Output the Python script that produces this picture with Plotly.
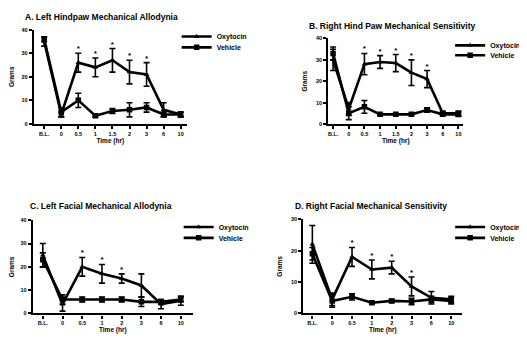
import plotly.graph_objects as go

time_ab = ["B.L.", "0", "0.5", "1", "1.5", "2", "3", "6", "10"]
time_cd = ["B.L.", "0", "0.5", "1", "2", "3", "6", "10"]

a_oxy = [35, 4, 26, 24, 27, 22, 21, 6, 4]
a_oxy_err = [2, 1, 4, 4, 5, 5, 5, 3, 1]
a_veh = [36, 5, 10, 3.5, 5.5, 6, 7, 4, 4]
a_veh_err = [1, 2, 3, 0.5, 1, 3, 2, 1, 1]
a_sig = [False, False, True, True, True, True, True, False, False]

b_oxy = [30, 7, 28, 29, 28.5, 24, 21, 5, 5]
b_oxy_err = [5, 3, 5, 3, 4, 6, 4, 1, 1]
b_veh = [33, 5, 8, 4.5, 4.5, 4.5, 6.5, 4.5, 4.5]
b_veh_err = [3, 3, 3, 0.5, 0.5, 0.5, 1, 0.5, 1]
b_sig = [False, False, True, True, True, True, True, False, False]

c_oxy = [25, 4, 20, 17, 15, 12, 4, 5.5]
c_oxy_err = [5, 3, 4, 4, 2, 5, 2, 2]
c_veh = [23, 6, 6, 6, 6, 5, 5, 6]
c_veh_err = [3, 2, 1, 1, 1, 2, 1, 1]
c_sig = [False, False, True, True, True, False, False, False]

d_oxy = [22, 4.5, 18, 14, 14.6, 8.6, 5, 4.5]
d_oxy_err = [6, 2, 3, 3, 2, 3, 2, 1]
d_veh = [19, 4, 5.3, 3.4, 4, 3.8, 4.5, 4]
d_veh_err = [2, 2, 1, 0.3, 0.5, 1, 1, 1]
d_sig = [False, False, True, True, True, True, False, False]

titles = ["A. Left Hindpaw Mechanical Allodynia",
          "B. Right Hind Paw Mechanical Sensitivity",
          "C. Left Facial Mechanical Allodynia",
          "D. Right Facial Mechanical Sensitivity"]
y_max = [40, 40, 40, 30]

W, H = 527, 343
OFF = 8  # default page body margin
FW, FH = W - OFF, H - OFF
FONT = "Liberation Sans, Arial, sans-serif"


def px(p):
    return (p - OFF) / FW


def py(p):
    return 1 - (p - OFF) / FH


panels = [
    dict(t=time_ab, oxy=a_oxy, oe=a_oxy_err, veh=a_veh, ve=a_veh_err, sig=a_sig,
         xpx=(33, 186), ypx=(27, 123), xr=[-0.6, 8.35], leg=(216, 34, 45), tt=(22, 14)),
    dict(t=time_ab, oxy=b_oxy, oe=b_oxy_err, veh=b_veh, ve=b_veh_err, sig=b_sig,
         xpx=(328, 463), ypx=(36, 123), xr=[-0.3, 8.3], leg=(490, 43, 53), tt=(307, 23)),
    dict(t=time_cd, oxy=c_oxy, oe=c_oxy_err, veh=c_veh, ve=c_veh_err, sig=c_sig,
         xpx=(32, 192), ypx=(221, 316), xr=[-0.5, 7.6], leg=(218, 228, 239), tt=(27, 207)),
    dict(t=time_cd, oxy=d_oxy, oe=d_oxy_err, veh=d_veh, ve=d_veh_err, sig=d_sig,
         xpx=(303, 462), ypx=(220, 316), xr=[-0.45, 7.55], leg=(490, 228, 239), tt=(293, 207)),
]

fig = go.Figure()
layout = dict(width=FW, height=FH, margin=dict(l=0, r=0, t=0, b=0),
              paper_bgcolor="white", plot_bgcolor="white",
              font=dict(family=FONT, color="black", size=7), annotations=[])

for i, p in enumerate(panels):
    n = "" if i == 0 else str(i + 1)
    xa, ya = "x" + n, "y" + n
    lg_oxy = "legend" if i == 0 else "legend" + str(2 * i + 1)
    lg_veh = "legend" + str(2 * i + 2)
    fig.add_trace(go.Scatter(
        x=p["t"], y=p["veh"], xaxis=xa, yaxis=ya, name="Vehicle", legend=lg_veh,
        mode="lines+markers", line=dict(color="black", width=2.6),
        marker=dict(symbol="square", size=5.5, color="black"),
        error_y=dict(type="data", array=p["ve"], color="black", thickness=1.6, width=3)))
    fig.add_trace(go.Scatter(
        x=p["t"], y=p["oxy"], xaxis=xa, yaxis=ya, name="Oxytocin", legend=lg_oxy,
        mode="lines+markers", line=dict(color="black", width=2.6),
        marker=dict(symbol="triangle-up", size=5, color="black"),
        error_y=dict(type="data", array=p["oe"], color="black", thickness=1.6, width=3)))
    sx = [t for t, s in zip(p["t"], p["sig"]) if s]
    sy = [o + e for o, e, s in zip(p["oxy"], p["oe"], p["sig"]) if s]
    fig.add_trace(go.Scatter(
        x=sx, y=sy, xaxis=xa, yaxis=ya, mode="text", text=["*"] * len(sx),
        textposition="top center", textfont=dict(size=8, color="black", weight="bold"),
        showlegend=False, hoverinfo="skip"))

    x0, x1 = px(p["xpx"][0]), px(p["xpx"][1])
    y0, y1 = py(p["ypx"][1]), py(p["ypx"][0])
    tickfont = dict(size=5.5, family=FONT, weight="bold")
    layout["xaxis" + n] = dict(
        domain=[x0, x1], anchor=ya, type="category", range=p["xr"],
        showline=True, linecolor="black", linewidth=2.4, ticks="outside", ticklen=3,
        tickwidth=1.6, tickcolor="black", showgrid=False, zeroline=False,
        tickfont=tickfont, tickangle=0,
        title=dict(text="Time (hr)", font=dict(size=6.5, weight="bold"), standoff=2))
    layout["yaxis" + n] = dict(
        domain=[y0, y1], anchor=xa, range=[0, y_max[i]], dtick=10,
        showline=True, linecolor="black", linewidth=2.4, ticks="outside", ticklen=3,
        tickwidth=1.6, tickcolor="black", showgrid=False, zeroline=False,
        tickfont=tickfont,
        title=dict(text="Grams", font=dict(size=6.5, weight="bold"), standoff=8))
    for lg, row in ((lg_oxy, p["leg"][1]), (lg_veh, p["leg"][2])):
        layout[lg] = dict(x=px(p["leg"][0] - 40), y=py(row), xanchor="left",
                          yanchor="middle", bgcolor="rgba(0,0,0,0)",
                          font=dict(size=7, weight="bold"), itemwidth=30)
    layout["annotations"].append(dict(
        x=px(p["tt"][0]), y=py(p["tt"][1]), xref="paper", yref="paper",
        xanchor="left", yanchor="middle", showarrow=False, text=titles[i],
        font=dict(size=8.5, weight="bold")))

fig.update_layout(**layout)
fig.write_html("out.html")
